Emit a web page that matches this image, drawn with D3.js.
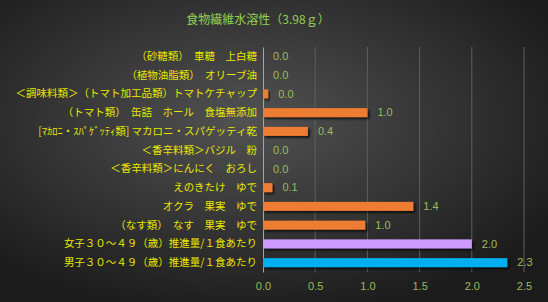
<!DOCTYPE html>
<html>
<head>
<meta charset="utf-8">
<script src="https://cdn.jsdelivr.net/npm/d3@7"></script>
<style>
  html, body { margin: 0; padding: 0; background: #2a2a2a; }
  svg { display: block; font-family: "Noto Sans CJK JP", "Noto Sans", sans-serif; }
</style>
</head>
<body>
<svg id="chart"></svg>
<script>
const chartTitle = '食物繊維水溶性（3.98ｇ）';
const categories = [
    '（砂糖類）　車糖　上白糖',
    '（植物油脂類）　オリーブ油',
    '＜調味料類＞（トマト加工品類）トマトケチャップ',
    '（トマト類）　缶詰　ホール　食塩無添加',
    '[ﾏｶﾛﾆ・ｽﾊﾟｹﾞｯﾃｨ類] マカロニ・スパゲッティ乾',
    '＜香辛料類＞バジル　粉',
    '＜香辛料類＞にんにく　おろし',
    'えのきたけ　ゆで',
    'オクラ　果実　ゆで',
    '（なす類）　なす　果実　ゆで',
    '女子３０～４９（歳）推進量/１食あたり',
    '男子３０～４９（歳）推進量/１食あたり'
];
const values = [0, 0, 0.05, 1.0, 0.43, 0, 0, 0.09, 1.44, 0.98, 2.0, 2.34];
const valueLabels = ['0.0', '0.0', '0.0', '1.0', '0.4', '0.0', '0.0', '0.1', '1.4', '1.0', '2.0', '2.3'];
const barColors = ['#ee7b30', '#ee7b30', '#ee7b30', '#ee7b30', '#ee7b30', '#ee7b30', '#ee7b30', '#ee7b30', '#ee7b30', '#ee7b30', '#cc99ff', '#00b0f0'];
const xTicks = [0, 0.5, 1.0, 1.5, 2.0, 2.5];

const W = 548, H = 302;
const margin = { top: 47, right: 24, bottom: 30, left: 263 };
const width = W - margin.left - margin.right;
const height = H - margin.top - margin.bottom;

const svg = d3.select('#chart').attr('width', W).attr('height', H);
const defs = svg.append('defs');
const bg = defs.append('radialGradient').attr('id', 'bg')
    .attr('cx', '45%').attr('cy', '40%').attr('r', '65%');
bg.append('stop').attr('offset', '0%').attr('stop-color', '#525252');
bg.append('stop').attr('offset', '100%').attr('stop-color', '#1c1c1c');
const shadow = defs.append('filter').attr('id', 'shadow')
    .attr('x', '-10%').attr('y', '-50%').attr('width', '130%').attr('height', '250%');
shadow.append('feDropShadow').attr('dx', 2).attr('dy', 2).attr('stdDeviation', 1.2)
    .attr('flood-color', '#000').attr('flood-opacity', 0.7);

svg.append('rect').attr('width', W).attr('height', H).attr('fill', 'url(#bg)');

svg.append('text').attr('x', 258).attr('y', 24).attr('text-anchor', 'middle')
    .attr('fill', '#92d050').style('font-size', '12px').text(chartTitle);

const chart = svg.append('g').attr('transform', `translate(${margin.left},${margin.top})`);

const x = d3.scaleLinear().domain([0, 2.5]).range([0, width]);
const y = d3.scaleBand().domain(categories).range([0, height]).paddingInner(0.52).paddingOuter(0.26);

// gridlines
chart.append('g').selectAll('line').data(xTicks.slice(1)).join('line')
    .attr('x1', d => x(d)).attr('x2', d => x(d))
    .attr('y1', 0).attr('y2', height)
    .attr('stroke', '#5e5e5e').attr('stroke-width', 1);

const xAxis = d3.axisBottom(x).tickValues(xTicks).tickFormat(d3.format('.1f')).tickSize(0).tickPadding(10);
const xAxisG = chart.append('g').attr('transform', `translate(0,${height})`).call(xAxis);
xAxisG.select('.domain').remove();
xAxisG.selectAll('text').attr('fill', '#9bbb59').style('font-size', '11px')
    .style('font-family', '"Liberation Sans", sans-serif');

const yAxis = d3.axisLeft(y).tickSize(0).tickPadding(6);
const yAxisG = chart.append('g').call(yAxis);
yAxisG.select('.domain').attr('stroke', '#a6a6a6');
yAxisG.selectAll('text').attr('fill', '#e8e800').style('font-size', '10.5px')
    .style('font-family', '"Noto Sans CJK JP", sans-serif');

chart.append('g').selectAll('rect').data(values).join('rect')
    .attr('x', 0)
    .attr('y', (d, i) => y(categories[i]))
    .attr('width', d => x(d))
    .attr('height', y.bandwidth())
    .attr('fill', (d, i) => barColors[i])
    .attr('filter', 'url(#shadow)');

chart.append('g').selectAll('text').data(values).join('text')
    .attr('x', d => x(d) + 10)
    .attr('y', (d, i) => y(categories[i]) + y.bandwidth() / 2)
    .attr('dy', '0.35em')
    .attr('fill', '#9bbb59')
    .style('font-size', '11px')
    .style('font-family', '"Liberation Sans", sans-serif')
    .text((d, i) => valueLabels[i]);
</script>
</body>
</html>
